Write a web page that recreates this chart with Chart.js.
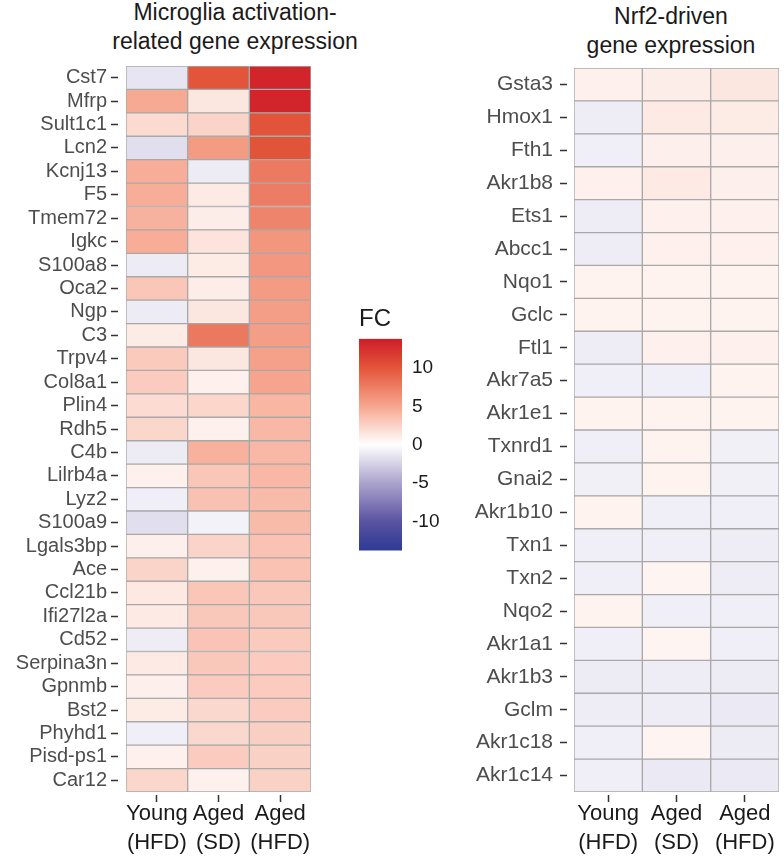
<!DOCTYPE html>
<html>
<head>
<meta charset="utf-8">
<script src="https://cdn.jsdelivr.net/npm/chart.js@4.4.0/dist/chart.umd.min.js"></script>
<style>
body { margin: 0; background: #fff; width: 784px; height: 856px; position: relative; overflow: hidden; font-family: "Liberation Sans", Arial, sans-serif; }
canvas { position: absolute; }
.ttl { position: absolute; width: 320px; font-size: 23px; line-height: 29px; color: #1a1a1a; text-align: center; white-space: nowrap; }
</style>
</head>
<body>
<div class="ttl" style="left:75px; top:-2px;">Microglia activation-<br>related gene expression</div>
<div class="ttl" style="left:511px; top:2px;">Nrf2-driven<br>gene expression</div>
<canvas id="microglia" width="330" height="856" style="left:0; top:0;"></canvas>
<canvas id="nrf2" width="344" height="856" style="left:440px; top:0;"></canvas>
<canvas id="scale" width="110" height="272" style="left:340px; top:300px;"></canvas>
<script>
const conditions = [['Young', '(HFD)'], ['Aged', '(SD)'], ['Aged', '(HFD)']];

const microgliaGenes = ['Cst7', 'Mfrp', 'Sult1c1', 'Lcn2', 'Kcnj13', 'F5', 'Tmem72', 'Igkc', 'S100a8', 'Oca2',
    'Ngp', 'C3', 'Trpv4', 'Col8a1', 'Plin4', 'Rdh5', 'C4b', 'Lilrb4a', 'Lyz2', 'S100a9', 'Lgals3bp', 'Ace',
    'Ccl21b', 'Ifi27l2a', 'Cd52', 'Serpina3n', 'Gpnmb', 'Bst2', 'Phyhd1', 'Pisd-ps1', 'Car12'];
const microgliaYoungHFD = [-1.4, 4.8, 2.1, -1.8, 4.6, 4.6, 4.3, 4.6, -1.1, 3.2,
    -1.1, 1.1, 3.0, 2.9, 2.0, 2.3, -1.1, 0.8, -0.9, -1.8, 0.9, 2.4,
    1.3, 1.2, -1.0, 1.2, 0.9, 1.1, -0.9, 0.8, 2.3];
const microgliaAgedSD = [10.0, 1.4, 2.4, 5.7, -1.1, 1.2, 1.0, 1.6, 1.1, 1.0,
    1.4, 7.8, 1.4, 0.8, 2.3, 0.8, 4.4, 3.2, 3.5, -0.7, 2.4, 0.8,
    3.2, 3.1, 3.3, 3.1, 2.9, 2.2, 2.2, 2.9, 0.8];
const microgliaAgedHFD = [13.3, 13.3, 10.1, 10.1, 7.7, 7.6, 7.1, 6.0, 5.9, 5.7,
    5.5, 5.5, 5.3, 5.1, 4.1, 4.0, 4.0, 4.0, 3.8, 3.8, 3.4, 3.4,
    3.1, 3.1, 3.0, 2.9, 2.9, 2.9, 2.7, 2.6, 2.6];

const nrf2Genes = ['Gsta3', 'Hmox1', 'Fth1', 'Akr1b8', 'Ets1', 'Abcc1', 'Nqo1', 'Gclc', 'Ftl1', 'Akr7a5',
    'Akr1e1', 'Txnrd1', 'Gnai2', 'Akr1b10', 'Txn1', 'Txn2', 'Nqo2', 'Akr1a1', 'Akr1b3', 'Gclm',
    'Akr1c18', 'Akr1c14'];
const nrf2YoungHFD = [0.8, -1.0, -0.9, 0.8, -1.0, -1.0, 0.7, 0.7, -1.0, -0.9,
    0.7, -0.9, -0.8, 0.7, -0.9, -0.9, 0.7, -0.9, -1.1, -1.0, -0.9, -0.9];
const nrf2AgedSD = [1.0, 1.2, 0.9, 1.2, 0.8, 0.8, 0.7, 0.7, 0.8, -0.9,
    0.7, 0.7, 0.7, -0.9, -0.9, 0.6, -0.9, 0.6, -1.0, -1.0, 0.6, -1.2];
const nrf2AgedHFD = [1.4, 1.1, 0.9, 0.9, 0.8, 0.8, 0.7, 0.7, 0.8, 0.7,
    0.7, -0.8, -0.8, -0.9, -1.0, -1.0, -0.9, -0.9, -1.1, -1.2, -1.1, -1.2];

const fcLimit = 13.8;
const legendTicks = [-10, -5, 0, 5, 10];

// colour ramp of the FC scale (blue - white - red)
const fcStops = [
    [-13.8, '#2d3a94'], [-10, '#5a53a1'], [-5, '#aba3cc'], [0, '#ffffff'],
    [5, '#f6a68f'], [10, '#e3553a'], [13.8, '#cf1d29']
];

const hex = (h) => [1, 3, 5].map(i => parseInt(h.substr(i, 2), 16));

const fcColor = (v) => {
    v = Math.max(-fcLimit, Math.min(fcLimit, v));
    for (let i = 1; i < fcStops.length; i++) {
        if (v <= fcStops[i][0]) {
            const [v0, c0] = fcStops[i - 1];
            const [v1, c1] = fcStops[i];
            const t = (v - v0) / (v1 - v0);
            const a = hex(c0), b = hex(c1);
            return 'rgb(' + a.map((x, k) => Math.round(x + (b[k] - x) * t)).join(',') + ')';
        }
    }
    return fcStops[fcStops.length - 1][1];
};

const FONT = 'Liberation Sans, Arial, sans-serif';

const heatmap = (id, genes, columns, opt) => {
    return new Chart(document.getElementById(id), {
        type: 'bar',
        data: {
            labels: genes,
            datasets: columns.map((vals, i) => ({
                data: genes.map(() => [i, i + 1]),
                backgroundColor: vals.map(fcColor),
                borderColor: '#a9a9a9',
                borderWidth: 1,
                borderSkipped: false,
                barPercentage: 1,
                categoryPercentage: 1,
                grouped: false
            }))
        },
        options: {
            indexAxis: 'y',
            responsive: false,
            animation: false,
            events: [],
            layout: { padding: { top: opt.top, right: opt.right, left: 0, bottom: 0 } },
            plugins: { legend: { display: false }, tooltip: { enabled: false } },
            scales: {
                x: {
                    type: 'linear',
                    min: 0,
                    max: conditions.length,
                    afterBuildTicks: (s) => { s.ticks = conditions.map((c, i) => ({ value: i + 0.5 })); },
                    afterFit: (s) => { s.height = 64; },
                    border: { display: false },
                    grid: {
                        drawOnChartArea: false, tickLength: 10, tickColor: '#333', tickWidth: 1.5,
                        tickBorderDash: [7, 3], tickBorderDashOffset: 7
                    },
                    ticks: {
                        callback: (v, i) => conditions[i],
                        font: { family: FONT, size: 22, lineHeight: 1.3 },
                        color: '#1a1a1a', padding: -2, maxRotation: 0, autoSkip: false
                    }
                },
                y: {
                    afterFit: (s) => { s.width = opt.yWidth; },
                    border: { display: false },
                    grid: {
                        offset: false, drawOnChartArea: false, tickLength: opt.tickLen, tickColor: '#333',
                        tickWidth: 1.5, tickBorderDash: [7, opt.tickLen - 7], tickBorderDashOffset: 0
                    },
                    ticks: { font: { family: FONT, size: opt.fontSize }, color: '#4d4d4d', padding: opt.pad, autoSkip: false }
                }
            }
        }
    });
};

heatmap('microglia', microgliaGenes, [microgliaYoungHFD, microgliaAgedSD, microgliaAgedHFD],
    { top: 66, right: 19, yWidth: 126, tickLen: 15, pad: 4, fontSize: 20 });
heatmap('nrf2', nrf2Genes, [nrf2YoungHFD, nrf2AgedSD, nrf2AgedHFD],
    { top: 68, right: 5, yWidth: 134, tickLen: 14, pad: 7, fontSize: 21 });

// colour bar legend
new Chart(document.getElementById('scale'), {
    type: 'bar',
    data: {
        labels: ['FC'],
        datasets: [{
            data: [[-fcLimit, fcLimit]],
            backgroundColor: (ctx) => {
                const chart = ctx.chart;
                if (!chart.chartArea) return '#fff';
                const y = chart.scales.y;
                const g = chart.ctx.createLinearGradient(0, y.getPixelForValue(fcLimit), 0, y.getPixelForValue(-fcLimit));
                fcStops.forEach(([v, c]) => g.addColorStop((fcLimit - v) / (2 * fcLimit), c));
                return g;
            },
            borderWidth: 0,
            barPercentage: 1,
            categoryPercentage: 1
        }]
    },
    options: {
        responsive: false,
        animation: false,
        events: [],
        layout: { padding: { left: 19, right: 0, top: 0, bottom: 0 } },
        plugins: {
            legend: { display: false },
            tooltip: { enabled: false },
            title: {
                display: true, text: 'FC', align: 'start', color: '#1a1a1a',
                font: { family: FONT, size: 24, weight: 'normal', lineHeight: 1.2 },
                padding: { top: 5, bottom: 5 }
            }
        },
        scales: {
            x: { display: false },
            y: {
                position: 'right',
                min: -fcLimit,
                max: fcLimit,
                z: 1,
                afterBuildTicks: (s) => { s.ticks = legendTicks.map(v => ({ value: v })); },
                afterFit: (s) => { s.width = 48; },
                border: { display: false },
                grid: { drawTicks: false, color: '#ffffff', lineWidth: 1.5, borderDash: [7, 29] },
                ticks: { padding: 10, font: { family: FONT, size: 19 }, color: '#1a1a1a' }
            }
        }
    }
});
</script>
</body>
</html>
